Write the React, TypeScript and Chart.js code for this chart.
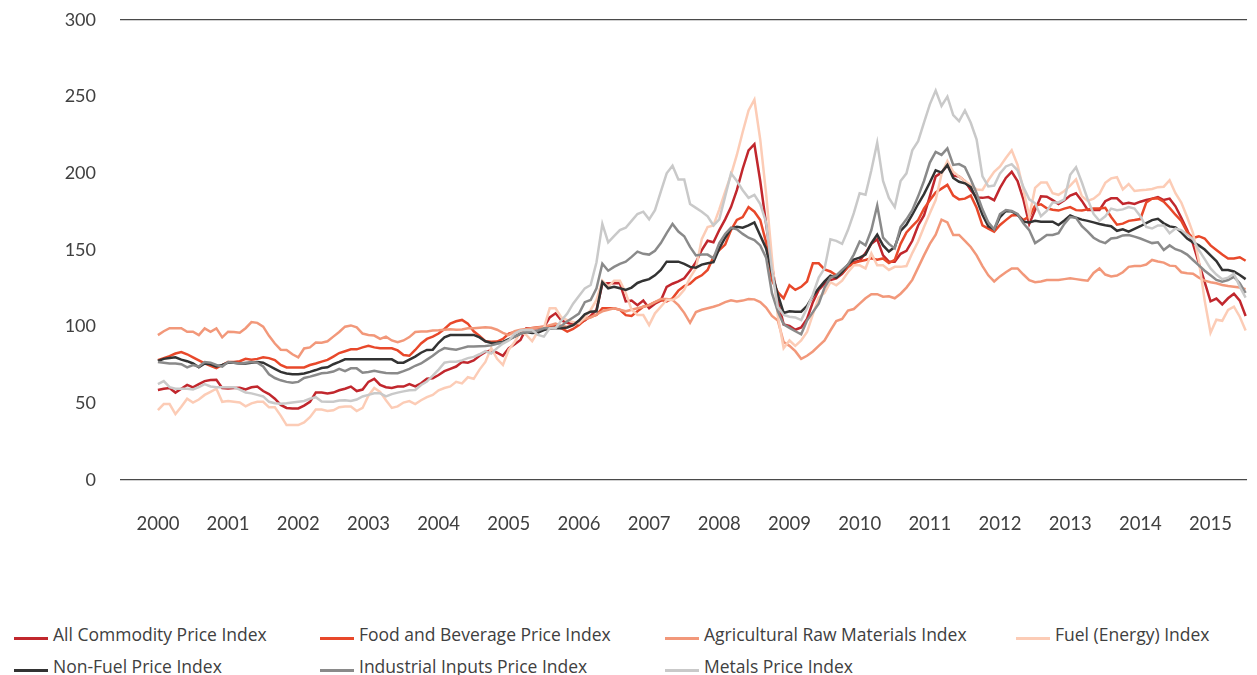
import React, { useEffect, useRef } from "react";
import { Chart, registerables } from "chart.js";

Chart.register(...registerables);

// ---- tick labels / categories ----
const yearLabels = ["2000", "2001", "2002", "2003", "2004", "2005", "2006", "2007", "2008", "2009", "2010", "2011", "2012", "2013", "2014", "2015"];
const startYear = 2000;
const monthCount = 187; // Jan 2000 .. Jul 2015

// ---- series values (monthly, 2005 = 100) ----
const allCommodity = [
  58.7, 59.5, 60, 57, 59.5, 62, 60.4, 62.5, 64.5, 65.2, 65.4, 60,
  59.7, 60, 60.2, 59, 60.5, 61, 58, 56, 53, 49, 47, 46.7,
  46.7, 48.5, 51, 57, 57, 56.5, 57, 58.5, 59.5, 60.9, 58, 59,
  64, 66, 62, 60.5, 60, 60.9, 60.9, 62.5, 61, 63.1, 66, 66.3,
  68.5, 71, 72.5, 74, 77, 76.5, 78, 81, 83.5, 84.5, 83, 81,
  86, 88.5, 91.3, 99, 99, 98.9, 99.5, 106, 108.7, 104, 102.5, 101.5,
  102.2, 104, 107, 111, 128, 128.3, 128.3, 128.3, 116.5, 117, 114, 117,
  112, 115, 117, 126, 128, 129.5, 131.5, 136.5, 142, 150, 156, 155,
  163, 170, 178, 189, 203, 215, 219, 195, 167, 140, 117, 101.5,
  100.5, 98, 99.5, 105, 116, 124, 128, 130.4, 131.5, 134.5, 139, 142,
  143, 148, 154, 157, 146.5, 142.4, 142.4, 147.5, 149.5, 156, 166, 172.5,
  185, 198, 200.5, 205.5, 198.5, 197.9, 195, 189, 184.3, 184, 184.5, 182.5,
  190.5, 197, 201, 195, 183, 167, 176, 185, 184.8, 182.5, 180, 182.5,
  185.5, 187, 182, 176.1, 176.1, 176.1, 181.8, 183.7, 183.7, 180, 180.8, 180,
  181.5, 182.6, 183.5, 184.5, 182.6, 183.5, 178.5, 171, 163, 154, 141.5, 129,
  116.5, 118.3, 114.5, 118.5, 121.5, 117, 107,
];

const foodBeverage = [
  78.2, 79.5, 80.8, 82.5, 83.5, 82, 80, 78, 76, 74.5, 73, 75,
  77, 77, 77.5, 79, 78.5, 79, 80, 79.5, 78.2, 75, 73.4, 73.4,
  73.4, 73.4, 75, 76, 77.2, 78.3, 80.5, 82.8, 84, 85.2, 85.2, 86.5,
  87.5, 86.5, 86, 85.9, 85.9, 84.5, 81.5, 81, 84.8, 89, 92, 93.5,
  95.5, 98.5, 102, 103.5, 104.4, 102, 97, 94, 90.5, 90.2, 90.3, 92,
  95.5, 96.5, 96.7, 98.3, 99.2, 99.6, 100, 100, 100.3, 99, 96.8, 98.5,
  101, 104.5, 106.5, 107.6, 112, 112, 112, 111, 107.5, 107, 110, 113,
  114, 116, 117.4, 116.5, 118.5, 123.5, 126.5, 128, 131.5, 133.5, 137, 145.5,
  150, 153.5, 163, 169.6, 171.5, 178, 175, 169.6, 155, 130.4, 122.5, 118.5,
  127, 124, 126, 129.5, 141.3, 141.3, 137.3, 136, 133.5, 135, 139, 141.5,
  142.6, 143.5, 144.6, 143.6, 144.5, 141.5, 143.5, 154, 161.5, 165.5, 169.5, 177,
  182.5, 187.5, 190, 192.5, 185.5, 183, 183.5, 185.5, 177.5, 166, 164, 162,
  166.3, 169.5, 172.5, 172.9, 169.5, 172, 179, 179.8, 177.2, 176.2, 175.7, 177,
  178, 176, 175.8, 176.5, 177, 177, 177.5, 171.5, 166.5, 167.2, 169, 169.5,
  170.2, 181, 183.4, 183.7, 181.5, 177.5, 173, 169, 161.8, 157.8, 159, 157.5,
  153, 150, 147, 144.5, 144.5, 145.3, 143,
];

const agriRaw = [
  94.5, 97, 99, 99, 99, 96.7, 96.7, 94.5, 98.9, 96.7, 98.9, 93,
  96.7, 96.5, 96, 99, 103, 102.5, 100, 94, 89, 85, 84.8, 82,
  80, 85.8, 86.5, 89.6, 89.5, 90.5, 93.5, 96.5, 100, 100.8, 99.5, 95.5,
  94.6, 94.2, 92, 93.5, 91, 89.8, 91, 93.2, 96.5, 96.8, 96.8, 97.5,
  97.6, 98, 98.3, 98, 98.2, 98.9, 99, 99.3, 99.6, 99.3, 98, 96,
  94.5, 97, 98, 98.5, 99, 99.5, 100, 101, 102, 100.5, 100, 101,
  103, 105, 106, 108, 110, 111, 112, 111, 110, 111, 112, 113,
  114, 116, 118, 118, 117.5, 114, 109, 102.5, 109.5, 111, 112, 113,
  114.2, 116, 117.2, 116.5, 117, 118, 117.8, 116, 112.5, 107, 104, 90,
  87.5, 84, 79, 81, 83.8, 87.5, 91, 97.5, 103.6, 105, 110.5, 111.5,
  115, 118.5, 121.2, 121.2, 119.5, 119.8, 118.5, 121.5, 125.5, 130.5, 138.5, 146.5,
  154, 160, 169.8, 168, 159.8, 159.8, 156, 152, 146.5, 139.5, 133.5, 129.5,
  132.8, 135.5, 138, 138, 134, 130.4, 129, 129.5, 130.4, 130.4, 130.4, 131,
  131.5, 131, 130.5, 130, 135, 138, 134, 132.8, 133.3, 135.5, 139, 139.5,
  139.5, 140.5, 143.5, 142.5, 141.8, 139.8, 139.5, 135.5, 134.8, 134.5, 132, 130,
  129, 128.3, 127.2, 126.5, 126.1, 125.5, 124.5,
];

const fuelEnergy = [
  45.6, 49.5, 49.5, 43, 47.8, 53, 50.5, 52.5, 55.5, 57.5, 59.5, 51,
  51.5, 51, 50.5, 48, 50, 51, 51, 47.4, 47.4, 42, 35.8, 35.8,
  35.8, 37.5, 41, 46, 46, 45, 45.5, 47.5, 48, 48, 45, 47,
  55, 60, 57.5, 52, 47, 48, 50.5, 51.5, 49.5, 52, 54, 55.5,
  58.5, 60, 61, 64, 63, 67, 66, 72, 77, 86, 79, 75,
  85, 90, 96.5, 94.6, 90.5, 97, 99, 112, 112, 106, 104.3, 103,
  102.2, 106, 110.9, 117.4, 130, 126, 130, 130, 122, 111, 107.6, 107.6,
  101, 108.7, 113, 117.4, 117.4, 119.6, 124, 132, 138, 157, 165, 166,
  176.5, 188, 199, 212, 227, 241, 248, 222, 187, 145, 107, 86,
  91, 87.5, 91, 96.5, 108, 119, 122, 129, 127, 130, 135.5, 140,
  140, 138, 147.8, 140, 140, 137, 139, 139, 139.5, 148, 155.5, 165,
  174, 182.6, 199.5, 208, 201, 198, 195, 192.4, 189.5, 189.2, 195.5, 201,
  204.5, 210, 215, 205.5, 189.2, 172, 190.5, 194, 194, 187, 186, 188.5,
  192, 196, 185, 182, 183.5, 186.5, 193.8, 196.7, 197.5, 189.5, 193, 188.5,
  189, 189.3, 189.8, 191, 191.3, 195.5, 187, 181, 171.5, 161, 143, 117,
  96, 104.5, 103.8, 110.9, 113, 106.5, 97.5,
];

const nonFuel = [
  77.6, 79, 79.5, 80, 78.5, 77.5, 76, 73.5, 76, 75.5, 74, 75,
  76.5, 76.5, 76, 76, 76.5, 77, 76.5, 74.5, 72.5, 70.5, 69.5, 69,
  69, 69.5, 70.5, 71.7, 73, 73.5, 75.5, 77, 78.7, 78.7, 78.7, 78.7,
  78.7, 78.7, 78.7, 78.7, 78.7, 76.5, 76.5, 78.5, 80.5, 83, 84.8, 85,
  89.5, 93, 94.5, 94.6, 94.6, 94.6, 94.6, 93, 90.5, 89.4, 89.5, 90,
  91.8, 93.5, 95.5, 96.5, 95.8, 96.2, 97.8, 98.8, 98.9, 98.9, 99.5, 101,
  104, 108, 109.8, 110, 129, 125, 126, 125, 124, 125.5, 128.5, 130,
  131, 133.5, 137, 142.4, 142.4, 142.4, 141, 139, 138.5, 140.5, 141.3, 142,
  151, 158, 164, 165.2, 164.5, 166, 168, 159.5, 151, 135, 121, 109,
  110, 109.8, 109.8, 113.5, 120, 125, 129.5, 133.2, 132, 135.5, 140.5, 143.8,
  145, 147, 154.4, 160, 153, 149, 152, 162.5, 166.5, 173, 180, 186.5,
  194, 202, 200.5, 205.5, 197, 194.5, 193.5, 191, 183, 173, 165.5, 163.5,
  171.5, 175.5, 175.2, 173, 168.5, 168, 169, 168.5, 168.5, 168.5, 166.3, 169.3,
  172.5, 171, 169.8, 169, 168, 167, 166.2, 165.5, 162.5, 163.5, 162, 163.8,
  165.5, 167.5, 169.5, 170.3, 167.4, 165.4, 164.8, 161.5, 157.5, 155, 153, 150.3,
  146.5, 142.8, 137, 137, 136, 133.7, 131,
];

const industrialInputs = [
  77, 76.5, 76, 76, 75.5, 73.5, 75, 74, 77, 76.5, 75, 74,
  77, 76.5, 76, 76.5, 77, 76.5, 74, 69, 66.5, 65, 64, 63.5,
  64, 66.5, 67.4, 68.5, 69.6, 70, 70.7, 72.5, 71, 72.8, 72.8, 70,
  70.5, 71.2, 70.5, 69.8, 69.6, 69.6, 71, 72.5, 74.5, 76, 78.5, 81,
  84, 86, 85.5, 85, 86, 87, 87, 87.2, 87.4, 87.8, 88.8, 89.5,
  91.3, 93.5, 95.5, 96.7, 96.7, 97.5, 98.9, 98.9, 99.5, 100.5, 103.5, 106,
  108.5, 116, 117.4, 125, 141, 136.5, 139, 141, 142.4, 145.5, 148.9, 147.5,
  147, 149.5, 154.5, 161, 167, 162, 159, 152, 146.5, 147, 147, 144.6,
  154.5, 160.5, 164.5, 163.5, 160.5, 158, 156.5, 153, 145, 121.8, 110, 101.5,
  99.2, 97, 95, 104, 109.5, 115, 125.5, 132, 133.5, 137, 140.5, 147,
  155.5, 153, 163, 179, 158, 154, 151, 165, 170, 176, 185, 195,
  207, 214, 212, 216.3, 205.5, 206, 204, 196, 187, 176.5, 168, 163.5,
  173.5, 176, 175.5, 173.5, 167.4, 163, 154.5, 157, 159.8, 159.8, 161, 167,
  171.5, 171, 165.5, 162, 158, 155.8, 154.5, 157.5, 158, 159.5, 159.8, 158.7,
  157.5, 156, 154.5, 155, 150, 153, 150.5, 149.3, 147, 143.5, 140, 136.5,
  133.5, 130.5, 129.3, 130.4, 132.5, 128.3, 122,
];

const metals = [
  62.6, 64.5, 60.5, 59.5, 59.5, 59.5, 59, 60.5, 62.5, 61, 60.5, 60.5,
  60.5, 60.5, 59, 57, 56.5, 55.5, 54.5, 51, 50, 49.8, 50, 50.5,
  51, 51.5, 53, 54, 51.2, 51.1, 51.1, 51.8, 52, 51.5, 52.5, 54.5,
  55.5, 56.5, 56.5, 54.5, 56, 57, 57.8, 58.5, 58.7, 62, 64.2, 68,
  72, 76.5, 77.2, 77.2, 78, 79.5, 80.3, 82, 84, 82.5, 86, 89,
  91, 95.5, 97.5, 97.8, 97.8, 94.6, 93.5, 98.9, 98.9, 104, 108.5, 115,
  120, 125, 127.2, 142, 167, 155, 159, 163, 164.5, 169, 173.5, 175,
  170, 176, 188, 200, 205, 196, 196, 180, 177.5, 175, 172, 166,
  170, 185, 200, 195, 189, 184, 186, 180, 168, 137, 113, 107.6,
  106.5, 106, 104.3, 112, 121, 132, 138, 157, 156, 154, 163, 174,
  187, 186, 202, 220, 195, 184, 178, 195, 200, 215, 221, 233,
  245, 254, 244, 250, 238, 234, 241, 233, 222, 198, 191.5, 192,
  200, 204.5, 206, 202, 191, 183, 180.5, 172, 175.5, 181, 181, 183,
  199, 204, 194, 183, 173.5, 169, 172, 177, 176, 176.5, 178, 177,
  172, 165, 164, 166, 166, 161, 164, 163, 160, 157, 150, 144,
  138, 134, 131, 132, 134.5, 126, 119,
];

const seriesLabels = [
  "All Commodity Price Index",
  "Food and Beverage Price Index",
  "Agricultural Raw Materials Index",
  "Fuel (Energy) Index",
  "Non-Fuel Price Index",
  "Industrial Inputs Price Index",
  "Metals Price Index",
];
const seriesValues = [allCommodity, foodBeverage, agriRaw, fuelEnergy, nonFuel, industrialInputs, metals];
const seriesColors = ["#C1272D", "#E8482A", "#F2987A", "#FCCCB6", "#333333", "#8A8A8A", "#C9C9C9"];

// legend layout (positions only)
const legendCols = [14, 320, 665, 1016];
const legendRows = [623, 655];

const AXIS_FONT = "Lato, 'Open Sans', sans-serif";
const LEGEND_FONT = "'Open Sans', Lato, sans-serif";

export default function App() {
  const canvasRef = useRef<HTMLCanvasElement | null>(null);

  useEffect(() => {
    const months = Array.from({ length: monthCount }, (_, i) => startYear + i / 12);
    const n = seriesValues.length;
    const datasets = seriesValues.map((vals, si) => ({
      label: seriesLabels[si],
      data: vals.map((v, i) => ({ x: months[i], y: v })),
      borderColor: seriesColors[si],
      backgroundColor: seriesColors[si],
      borderWidth: 2.5,
      pointRadius: 0,
      pointHoverRadius: 0,
      tension: 0,
      fill: false,
      order: n - 1 - si,
    }));

    const chart = new Chart(canvasRef.current as HTMLCanvasElement, {
      type: "line",
      data: { datasets },
      options: {
        responsive: false,
        maintainAspectRatio: false,
        animation: false,
        devicePixelRatio: 1,
        layout: { padding: { top: 20, left: 0, right: 0, bottom: 0 } },
        plugins: { legend: { display: false }, tooltip: { enabled: false } },
        scales: {
          x: {
            type: "linear",
            min: 1999.46,
            max: 2015.52,
            afterBuildTicks: (scale: any) => {
              scale.ticks = yearLabels.map((y) => ({ value: Number(y) }));
            },
            afterFit: (scale: any) => {
              scale.height = 80;
            },
            ticks: {
              autoSkip: false,
              maxRotation: 0,
              padding: 25,
              color: "#404040",
              font: { family: AXIS_FONT, size: 18.5 },
              callback: (v: any) => String(v),
            },
            grid: { display: false },
            border: { display: false },
          },
          y: {
            min: 0,
            max: 300,
            afterFit: (scale: any) => {
              scale.width = 120;
            },
            ticks: {
              stepSize: 50,
              padding: 0,
              color: "#404040",
              font: { family: AXIS_FONT, size: 18 },
            },
            grid: {
              drawTicks: true,
              tickLength: 24,
              tickColor: "rgba(0,0,0,0)",
              lineWidth: 1.2,
              color: (ctx: any) =>
                ctx.tick && (ctx.tick.value === 0 || ctx.tick.value === 300) ? "#4a4a4a" : "rgba(0,0,0,0)",
            },
            border: { display: false },
          },
        },
      },
    });
    return () => chart.destroy();
  }, []);

  return (
    <div
      style={{
        position: "absolute",
        left: 0,
        top: 0,
        width: 1257,
        height: 675,
        overflow: "hidden",
        background: "#ffffff",
        fontFamily: LEGEND_FONT,
      }}
    >
      <canvas ref={canvasRef} width={1257} height={560} style={{ display: "block", width: 1257, height: 560 }} />
      {seriesLabels.map((label, i) => {
        const col = i < 4 ? i : i - 4;
        const row = i < 4 ? 0 : 1;
        const left = legendCols[col];
        const top = legendRows[row];
        return (
          <div key={label}>
            <div
              style={{
                position: "absolute",
                left,
                top: top + 14,
                width: 34,
                height: 3,
                background: seriesColors[i],
              }}
            />
            <div
              style={{
                position: "absolute",
                left: left + 39,
                top,
                height: 22,
                lineHeight: "22px",
                fontSize: 17.5,
                color: "#404040",
                whiteSpace: "nowrap",
              }}
            >
              {label}
            </div>
          </div>
        );
      })}
    </div>
  );
}
